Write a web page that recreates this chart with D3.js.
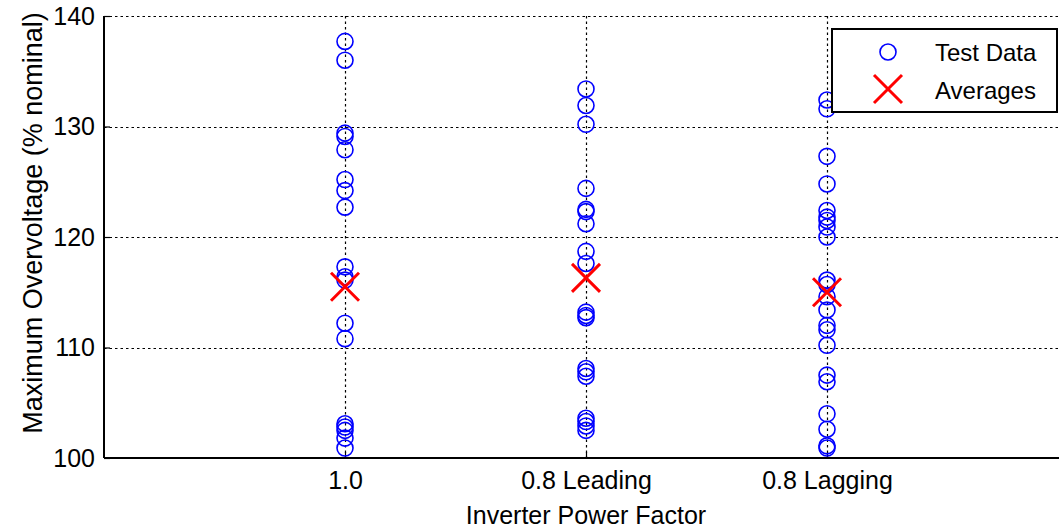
<!DOCTYPE html>
<html>
<head>
<meta charset="utf-8">
<script src="https://cdn.jsdelivr.net/npm/d3@7/dist/d3.min.js"></script>
<style>
  html, body { margin: 0; padding: 0; background: #fff; }
  svg { display: block; font-family: Arial, "Liberation Sans", sans-serif; }
</style>
</head>
<body>
<svg id="chart" width="1059" height="529"></svg>
<script>
// Power-factor settings along the x axis
const categories = ["1.0", "0.8 Leading", "0.8 Lagging"];

// Measured maximum overvoltage (% nominal) for each power factor
const unityPF = [137.7, 136.0, 129.4, 129.1, 127.9, 125.2, 124.2, 122.7, 117.3, 116.4, 116.1,
                 112.2, 110.8, 103.1, 102.8, 102.5, 101.8, 100.9];
const leadingPF = [133.4, 131.9, 130.2, 124.4, 122.5, 122.3, 121.2, 118.7, 117.6, 113.2, 112.9,
                   112.7, 108.1, 107.8, 107.4, 103.6, 103.3, 102.9, 102.5];
const laggingPF = [132.4, 131.6, 127.3, 124.8, 122.4, 121.8, 121.5, 120.9, 120.0, 116.1, 115.7,
                   114.6, 113.4, 112.0, 111.6, 110.2, 107.5, 106.9, 104.0, 102.6, 101.1, 100.9];

// Mean overvoltage per power factor
const averages = [115.5, 116.3, 115.0];

const yTicks = [100, 110, 120, 130, 140];
const xTicks = [1, 2, 3];

const svg = d3.select("#chart");
const plotLeft = 104, plotTop = 16, plotBottom = 458, plotRight = 1068;

const x = d3.scaleLinear().domain([0, 4]).range([plotLeft, plotRight]);
const y = d3.scaleLinear().domain([100, 140]).range([plotBottom, plotTop]);

const fontSize = 25;
const fontFamily = "Arial, 'Liberation Sans', sans-serif";

// Dotted grid
const grid = svg.append("g").attr("stroke", "#000").attr("stroke-width", 1.2)
  .attr("stroke-dasharray", "2.5,3");
grid.selectAll("line.h").data(yTicks.filter(v => v > 100)).join("line").attr("class", "h")
  .attr("x1", plotLeft).attr("x2", 1059)
  .attr("y1", d => Math.round(y(d)) + 0.5).attr("y2", d => Math.round(y(d)) + 0.5);
grid.selectAll("line.v").data(xTicks).join("line").attr("class", "v")
  .attr("x1", d => Math.round(x(d)) + 0.5).attr("x2", d => Math.round(x(d)) + 0.5)
  .attr("y1", plotTop).attr("y2", plotBottom);

// Axes with inward ticks
const yAxis = d3.axisLeft(y).tickValues(yTicks).tickSize(-6).tickPadding(9)
  .tickFormat(d3.format("d"));
const gy = svg.append("g").attr("transform", `translate(${plotLeft},0)`).call(yAxis);
gy.select(".domain").remove();
gy.selectAll(".tick line").attr("stroke", "#000").attr("stroke-width", 1.2);
gy.selectAll(".tick text").attr("font-size", fontSize).attr("fill", "#000")
  .attr("font-family", fontFamily);

const xAxis = d3.axisBottom(x).tickValues(xTicks).tickSize(-6).tickPadding(13)
  .tickFormat((d, i) => categories[i]);
const gx = svg.append("g").attr("transform", `translate(0,${plotBottom})`).call(xAxis);
gx.select(".domain").remove();
gx.selectAll(".tick line").attr("stroke", "#000").attr("stroke-width", 1.2);
gx.selectAll(".tick text").attr("font-size", fontSize).attr("fill", "#000")
  .attr("font-family", fontFamily);

// Solid axis lines
svg.append("line").attr("x1", plotLeft).attr("x2", plotLeft).attr("y1", plotTop).attr("y2", plotBottom)
  .attr("stroke", "#000").attr("stroke-width", 2);
svg.append("line").attr("x1", plotLeft).attr("x2", 1059).attr("y1", plotBottom).attr("y2", plotBottom)
  .attr("stroke", "#000").attr("stroke-width", 2);

// Test data circles
const seriesList = [unityPF, leadingPF, laggingPF];
const points = seriesList.flatMap((vals, i) => vals.map(v => ({ cat: xTicks[i], v })));
svg.append("g").selectAll("circle").data(points).join("circle")
  .attr("cx", d => x(d.cat)).attr("cy", d => y(d.v)).attr("r", 8)
  .attr("fill", "none").attr("stroke", "#0000ff").attr("stroke-width", 1.6);

// Average markers
const xMark = (cx, cy, h) => `M${cx - h},${cy - h}L${cx + h},${cy + h}M${cx - h},${cy + h}L${cx + h},${cy - h}`;
svg.append("g").selectAll("path").data(averages).join("path")
  .attr("d", (d, i) => xMark(x(xTicks[i]), y(d), 14))
  .attr("stroke", "#ff0000").attr("stroke-width", 3).attr("fill", "none");

// Axis titles
svg.append("text").attr("x", x(2)).attr("y", 524).attr("text-anchor", "middle")
  .attr("font-size", fontSize).text("Inverter Power Factor");
svg.append("text").attr("transform", `translate(42,${223}) rotate(-90)`)
  .attr("text-anchor", "middle").attr("font-size", 27)
  .text("Maximum Overvoltage (% nominal)");

// Legend
const lg = svg.append("g");
lg.append("rect").attr("x", 832).attr("y", 29).attr("width", 225).attr("height", 83)
  .attr("fill", "#fff").attr("stroke", "#000").attr("stroke-width", 2);
lg.append("circle").attr("cx", 888).attr("cy", 52).attr("r", 8)
  .attr("fill", "none").attr("stroke", "#0000ff").attr("stroke-width", 1.6);
lg.append("path").attr("d", xMark(888, 89, 14))
  .attr("stroke", "#ff0000").attr("stroke-width", 3).attr("fill", "none");
lg.append("text").attr("x", 935).attr("y", 61).attr("font-size", 24).text("Test Data");
lg.append("text").attr("x", 935).attr("y", 99).attr("font-size", 24).text("Averages");
</script>
</body>
</html>
